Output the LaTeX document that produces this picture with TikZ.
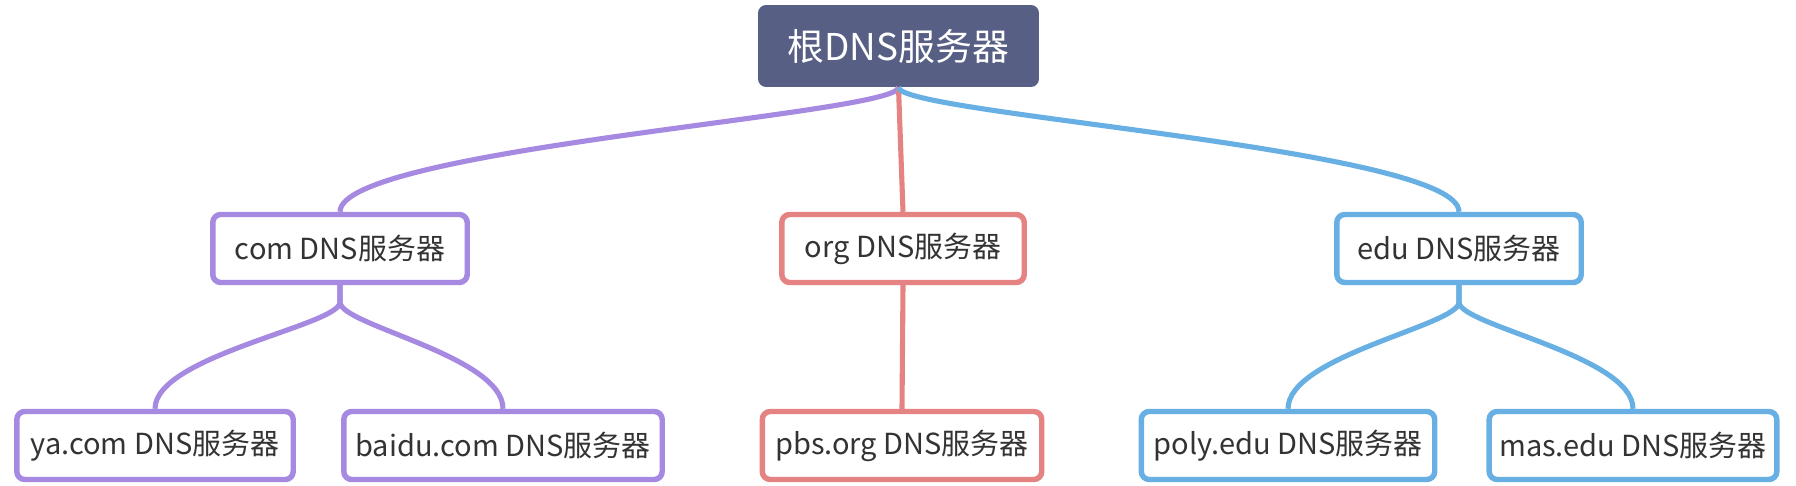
\documentclass[tikz,border=0pt]{standalone}
\usepackage{fontspec}
\setmainfont{Noto Sans CJK SC}
\usetikzlibrary{positioning}
\definecolor{rootfill}{HTML}{585F85}
\definecolor{compurple}{HTML}{A689E0}
\definecolor{orgred}{HTML}{E58383}
\definecolor{edublue}{HTML}{68B0E4}
\definecolor{txtgray}{HTML}{333333}
\tikzstyle{rootbox}=[rectangle,fill=rootfill,rounded corners=0.16cm,text=white,minimum width=5.62cm,minimum height=1.64cm,font=\fontsize{21}{25}\selectfont]
\tikzstyle{srv}=[rectangle,draw,line width=3.1pt,fill=white,rounded corners=0.16cm,inner xsep=0.2cm,minimum height=1.36cm,text=txtgray,font=\fontsize{16.5}{20}\selectfont]
\tikzstyle{link}=[line width=2.9pt]

\begin{document}
\begin{tikzpicture}[x=0.02cm,y=-0.02cm]
\useasboundingbox (0,0) rectangle (1796,486);
\node[rootbox] (root) at (898.5,46) {根DNS服务器};
% second level
\node[srv, draw=compurple, minimum width=5.09cm] (com) at (340,248.5) {com DNS服务器};
\node[srv, draw=orgred, minimum width=4.85cm] (org) at (903,248.5) {org DNS服务器};
\node[srv, draw=edublue, minimum width=4.89cm] (edu) at (1459,248.5) {edu DNS服务器};
% third level
\node[srv, draw=compurple, minimum width=5.53cm] (ya) at (155,445.5) {ya.com DNS服务器};
\node[srv, draw=compurple, minimum width=6.37cm] (baidu) at (503,445.5) {baidu.com DNS服务器};
\node[srv, draw=orgred, minimum width=5.59cm] (pbs) at (902,445.5) {pbs.org DNS服务器};
\node[srv, draw=edublue, minimum width=5.87cm] (poly) at (1288,445.5) {poly.edu DNS服务器};
\node[srv, draw=edublue, minimum width=5.75cm] (mas) at (1633,445.5) {mas.edu DNS服务器};
% connectors
\draw[link, compurple] (root.south) .. controls +(0,27) and +(0,-63) .. (com.north);
\draw[link, orgred] (root.south) -- (org.north);
\draw[link, edublue] (root.south) .. controls +(0,27) and +(0,-63) .. (edu.north);
\draw[link, compurple] (com.south) -- ++(0,17) .. controls +(0,23) and +(0,-53) .. (ya.north);
\draw[link, compurple] (com.south) -- ++(0,17) .. controls +(0,23) and +(0,-53) .. (baidu.north);
\draw[link, orgred] (org.south) -- (pbs.north);
\draw[link, edublue] (edu.south) -- ++(0,17) .. controls +(0,23) and +(0,-53) .. (poly.north);
\draw[link, edublue] (edu.south) -- ++(0,17) .. controls +(0,23) and +(0,-53) .. (mas.north);
\end{tikzpicture}
\end{document}
